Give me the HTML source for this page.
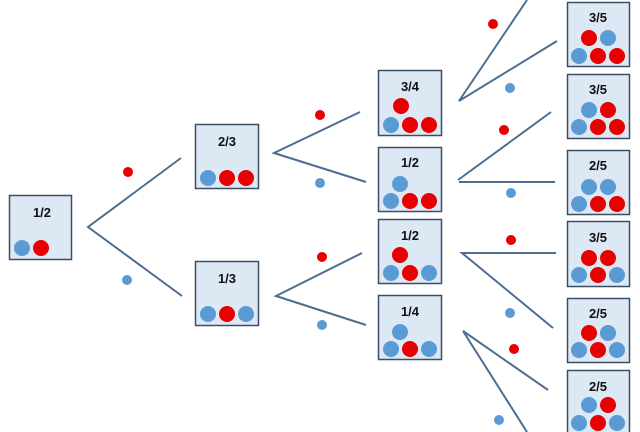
<!DOCTYPE html>
<html><head><meta charset="utf-8"><style>
html,body{margin:0;padding:0;background:#fff;width:640px;height:432px;overflow:hidden}
svg text{font-family:"Liberation Sans",sans-serif;font-weight:bold;font-size:13px;fill:#111;text-anchor:middle}
</style></head><body>
<svg width="640" height="432" viewBox="0 0 640 432" xmlns="http://www.w3.org/2000/svg">
<defs>
<style>.b{fill:#dde8f5;stroke:#3c4e66;stroke-width:1.5}.r{fill:#e80000}.u{fill:#5b9bd5}.l{stroke:#4d6e91;stroke-width:2;fill:none}</style>
</defs>
<!-- lines -->
<g class="l">
<path d="M181,158 L88,227 L182,296"/>
<path d="M360,112 L274,153 L366,182"/>
<path d="M362,253 L276,296 L366,325"/>
<path d="M527,0 L459,101 L557,41"/>
<path d="M551,112 L458,180 M459,182 L555,182"/>
<path d="M556,253 L462,253 L553,328"/>
<path d="M548,390 L463,331 L527,432"/>
</g>
<!-- connector dots -->
<circle class="r" cx="128" cy="172" r="5"/><circle class="u" cx="127" cy="280" r="5"/>
<circle class="r" cx="320" cy="115" r="5"/><circle class="u" cx="320" cy="183" r="5"/>
<circle class="r" cx="322" cy="257" r="5"/><circle class="u" cx="322" cy="325" r="5"/>
<circle class="r" cx="493" cy="24" r="5"/><circle class="u" cx="510" cy="88" r="5"/>
<circle class="r" cx="504" cy="130" r="5"/><circle class="u" cx="511" cy="193" r="5"/>
<circle class="r" cx="511" cy="240" r="5"/><circle class="u" cx="510" cy="313" r="5"/>
<circle class="r" cx="514" cy="349" r="5"/><circle class="u" cx="499" cy="420" r="5"/>
<!-- box 1 -->
<rect class="b" x="9.5" y="195.5" width="62" height="64"/><text x="42" y="217">1/2</text>
<circle class="u" cx="22" cy="248" r="8"/><circle class="r" cx="41" cy="248" r="8"/>
<!-- 2/3 -->
<rect class="b" x="195.5" y="124.5" width="63" height="64"/><text x="227" y="146">2/3</text>
<circle class="u" cx="208" cy="178" r="8"/><circle class="r" cx="227" cy="178" r="8"/><circle class="r" cx="246" cy="178" r="8"/>
<!-- 1/3 -->
<rect class="b" x="195.5" y="261.5" width="63" height="64"/><text x="227" y="283">1/3</text>
<circle class="u" cx="208" cy="314" r="8"/><circle class="r" cx="227" cy="314" r="8"/><circle class="u" cx="246" cy="314" r="8"/>
<!-- col3 -->
<rect class="b" x="378.5" y="70.5" width="63" height="65"/><text x="410" y="91">3/4</text>
<circle class="r" cx="401" cy="106" r="8"/><circle class="u" cx="391" cy="125" r="8"/><circle class="r" cx="410" cy="125" r="8"/><circle class="r" cx="429" cy="125" r="8"/>
<rect class="b" x="378.5" y="147.5" width="63" height="64"/><text x="410" y="167">1/2</text>
<circle class="u" cx="400" cy="184" r="8"/><circle class="u" cx="391" cy="201" r="8"/><circle class="r" cx="410" cy="201" r="8"/><circle class="r" cx="429" cy="201" r="8"/>
<rect class="b" x="378.5" y="219.5" width="63" height="64"/><text x="410" y="240">1/2</text>
<circle class="r" cx="400" cy="255" r="8"/><circle class="u" cx="391" cy="273" r="8"/><circle class="r" cx="410" cy="273" r="8"/><circle class="u" cx="429" cy="273" r="8"/>
<rect class="b" x="378.5" y="295.5" width="63" height="64"/><text x="410" y="316">1/4</text>
<circle class="u" cx="400" cy="332" r="8"/><circle class="u" cx="391" cy="349" r="8"/><circle class="r" cx="410" cy="349" r="8"/><circle class="u" cx="429" cy="349" r="8"/>
<!-- col4 -->
<rect class="b" x="567.5" y="2.5" width="62" height="64"/><text x="598" y="22">3/5</text>
<circle class="r" cx="589" cy="38" r="8"/><circle class="u" cx="608" cy="38" r="8"/><circle class="u" cx="579" cy="56" r="8"/><circle class="r" cx="598" cy="56" r="8"/><circle class="r" cx="617" cy="56" r="8"/>
<rect class="b" x="567.5" y="74.5" width="62" height="64"/><text x="598" y="94">3/5</text>
<circle class="u" cx="589" cy="110" r="8"/><circle class="r" cx="608" cy="110" r="8"/><circle class="u" cx="579" cy="127" r="8"/><circle class="r" cx="598" cy="127" r="8"/><circle class="r" cx="617" cy="127" r="8"/>
<rect class="b" x="567.5" y="150.5" width="62" height="64"/><text x="598" y="170">2/5</text>
<circle class="u" cx="589" cy="187" r="8"/><circle class="u" cx="608" cy="187" r="8"/><circle class="u" cx="579" cy="204" r="8"/><circle class="r" cx="598" cy="204" r="8"/><circle class="r" cx="617" cy="204" r="8"/>
<rect class="b" x="567.5" y="221.5" width="62" height="65"/><text x="598" y="242">3/5</text>
<circle class="r" cx="589" cy="258" r="8"/><circle class="r" cx="608" cy="258" r="8"/><circle class="u" cx="579" cy="275" r="8"/><circle class="r" cx="598" cy="275" r="8"/><circle class="u" cx="617" cy="275" r="8"/>
<rect class="b" x="567.5" y="298.5" width="62" height="64"/><text x="598" y="318">2/5</text>
<circle class="r" cx="589" cy="333" r="8"/><circle class="u" cx="608" cy="333" r="8"/><circle class="u" cx="579" cy="350" r="8"/><circle class="r" cx="598" cy="350" r="8"/><circle class="u" cx="617" cy="350" r="8"/>
<rect class="b" x="567.5" y="370.5" width="62" height="70"/><text x="598" y="391">2/5</text>
<circle class="u" cx="589" cy="405" r="8"/><circle class="r" cx="608" cy="405" r="8"/><circle class="u" cx="579" cy="423" r="8"/><circle class="r" cx="598" cy="423" r="8"/><circle class="u" cx="617" cy="423" r="8"/>
</svg>
</body></html>
